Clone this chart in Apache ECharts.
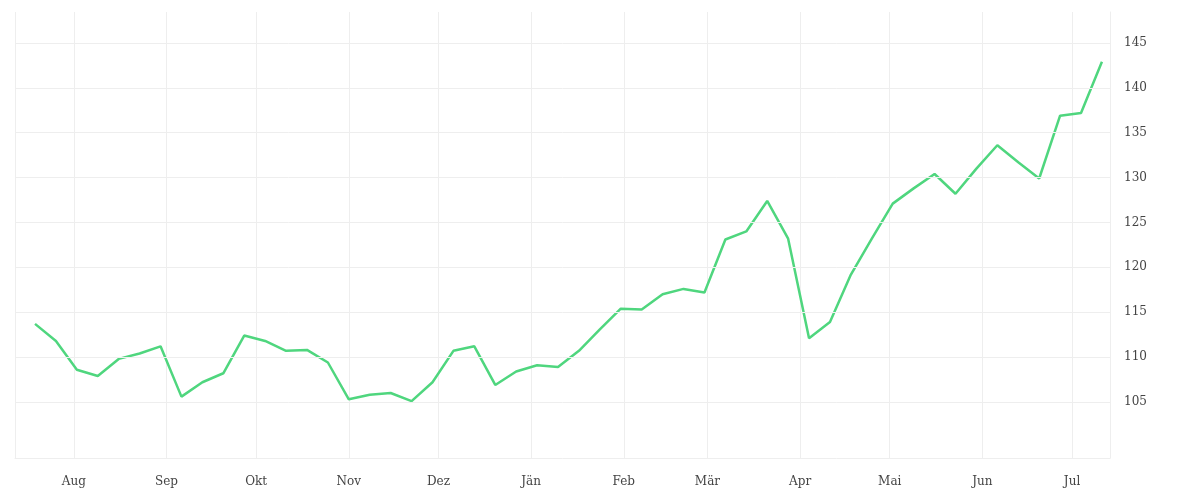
<!DOCTYPE html>
<html><head><meta charset="utf-8">
<script src="https://cdn.jsdelivr.net/npm/echarts@6/dist/echarts.min.js"></script>
<style>html,body{margin:0;padding:0;background:#fff}#c{width:1200px;height:500px}</style>
</head><body><div id="c"></div>
<script>
const startDate = '2022-07-19';
const values = [113.7,111.8,108.6,107.9,109.8,110.4,111.2,105.6,107.2,108.2,112.4,111.8,110.7,110.8,109.4,105.3,105.8,106.0,105.1,107.2,110.7,111.2,106.9,108.4,109.1,108.9,110.7,113.1,115.4,115.3,117.0,117.6,117.2,123.1,124.0,127.4,123.2,112.1,113.9,119.2,123.2,127.1,128.8,130.4,128.2,131.0,133.6,131.7,129.9,136.9,137.2,142.9];
const monthNames = ['Jän','Feb','Mär','Apr','Mai','Jun','Jul','Aug','Sep','Okt','Nov','Dez'];
const yTicks = [105,110,115,120,125,130,135,140,145];

const DAY = 86400000;
const t0 = Date.UTC(2022,6,19);
const data = values.map((v,i)=>[t0 + i*7*DAY, v]);
const chart = echarts.init(document.getElementById('c'));
chart.setOption({
  animation:false,
  textStyle:{fontFamily:'DejaVu Serif'},
  grid:{left:15,right:90,top:12,bottom:42},
  xAxis:{type:'time',min:t0-6.7*DAY,max:t0+357*DAY+2.7*DAY,
    minInterval:28*DAY,maxInterval:31*DAY,
    axisLine:{lineStyle:{color:'#eee'}},axisTick:{show:false},
    splitLine:{show:true,lineStyle:{color:'#eee'}},
    axisLabel:{color:'#444',fontSize:12,margin:18,fontFamily:'DejaVu Serif',
      formatter:v=>monthNames[new Date(v).getUTCMonth()]}},
  yAxis:{type:'value',position:'right',min:98.76,max:148.45,
    axisLabel:{show:false},splitLine:{show:false},axisLine:{show:true,lineStyle:{color:'#eee'}},axisTick:{show:false}},
  series:[{type:'line',data:data,symbol:'none',lineStyle:{color:'#4fd67e',width:2.5},
    markLine:{silent:true,symbol:'none',lineStyle:{color:'#eee',type:'solid',width:1},
      label:{position:'end',distance:14,color:'#444',fontSize:12,fontFamily:'DejaVu Serif',formatter:p=>p.value},
      data:yTicks.map(y=>({yAxis:y}))}}]
});
</script></body></html>
